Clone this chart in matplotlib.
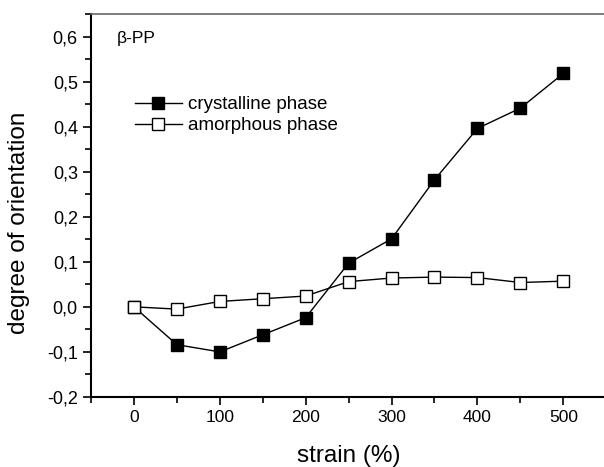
import numpy as np
import matplotlib.pyplot as plt
from matplotlib.ticker import MultipleLocator, FuncFormatter

plt.rcParams['font.family'] = ['Liberation Sans', 'DejaVu Sans']

strain = [0, 50, 100, 150, 200, 250, 300, 350, 400, 450, 500]
crystalline = [0.0, -0.084, -0.100, -0.062, -0.024, 0.097, 0.151, 0.282, 0.396, 0.441, 0.518]
amorphous = [0.0, -0.005, 0.012, 0.018, 0.024, 0.056, 0.064, 0.066, 0.065, 0.054, 0.057]

fig = plt.figure(figsize=(6.04, 4.67), dpi=100)
ax = fig.add_axes([0.1507, 0.150, 0.853, 0.820])

ax.plot(strain, crystalline, '-s', color='black', lw=1.0, ms=8.5,
        mfc='black', mec='black', label='crystalline phase')
ax.plot(strain, amorphous, '-s', color='black', lw=1.0, ms=8.0,
        mfc='white', mec='black', mew=1.0, label='amorphous phase')

ax.set_xlim(-50, 550)
ax.set_ylim(-0.2, 0.65)
ax.xaxis.set_major_locator(MultipleLocator(100))
ax.xaxis.set_minor_locator(MultipleLocator(50))
ax.yaxis.set_major_locator(MultipleLocator(0.1))
ax.yaxis.set_minor_locator(MultipleLocator(0.05))
ax.yaxis.set_major_formatter(FuncFormatter(lambda v, p: ('%.1f' % v).replace('.', ',').replace('-0,0', '0,0')))

ax.tick_params(which='major', direction='out', length=6, width=1.2, labelsize=13)
ax.tick_params(axis='x', which='major', labelsize=12.5)
ax.tick_params(which='minor', direction='out', length=4, width=1.2)
for s in ['left', 'bottom']:
    ax.spines[s].set_linewidth(1.5)
ax.spines['top'].set_linewidth(1.2)
ax.spines['top'].set_color('#666666')
ax.spines['right'].set_visible(False)

ax.set_xlabel('strain (%)', fontsize=17.5, labelpad=14)
ax.set_ylabel('degree of orientation', fontsize=17.5)
ax.yaxis.set_label_coords(-0.118, 0.455)

ax.text(0.05, 0.955, 'β-PP', transform=ax.transAxes, fontsize=12.5, va='top')
ax.legend(loc='upper left', bbox_to_anchor=(0.07, 0.805), frameon=False,
          fontsize=13.5, handlelength=2.55, handletextpad=0.32, labelspacing=0.2,
          borderaxespad=0)

fig.savefig('out.png', dpi=100)
